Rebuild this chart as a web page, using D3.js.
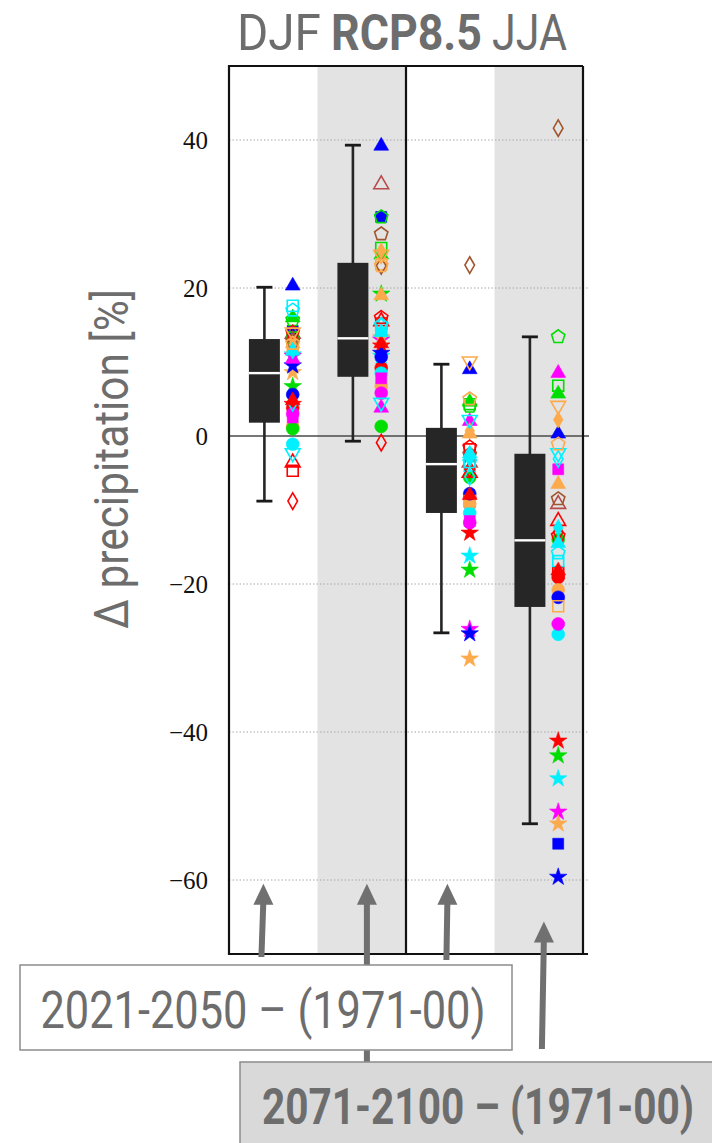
<!DOCTYPE html>
<html>
<head>
<meta charset="utf-8">
<script src="https://cdn.jsdelivr.net/npm/d3@7.9.0/dist/d3.min.js"></script>
<style>
  body { margin: 0; background: #fff; }
  svg { display: block; }
</style>
</head>
<body>
<div id="chart"></div>
<script>
// four boxes: DJF / JJA x near / far future
const periods = ['DJF 2021-2050', 'DJF 2071-2100', 'JJA 2021-2050', 'JJA 2071-2100'];
const shaded = [false, true, false, true];

// box statistics
const whiskerLow = [-8.8, -0.7, -26.6, -52.4];
const q1 = [1.8, 8.0, -10.4, -23.1];
const medians = [8.5, 13.2, -3.8, -14.1];
const q3 = [13.1, 23.4, 1.1, -2.4];
const whiskerHigh = [20.1, 39.3, 9.7, 13.4];

// climate model members (colour, marker, filled)
const modelColors = ['red', 'green', 'cyan', 'magenta', 'orange', 'blue', 'blue', 'red', 'orange', 'cyan',
  'magenta', 'green', 'blue', 'blue', 'magenta', 'green', 'orange', 'brownred', 'red', 'red',
  'green', 'cyan', 'orange', 'magenta', 'brown', 'red', 'orange', 'cyan', 'brown', 'green',
  'red', 'orange', 'cyan', 'cyan', 'red', 'cyan', 'orange', 'cyan'];
const modelShapes = ['star', 'star', 'star', 'star', 'star', 'star', 'square', 'circle', 'circle', 'circle',
  'circle', 'circle', 'circle', 'triUp', 'triUp', 'triUp', 'triUp', 'triUp', 'triUp', 'square',
  'square', 'square', 'square', 'square', 'diamond', 'diamond', 'diamond', 'diamond', 'pentagon', 'pentagon',
  'pentagon', 'triDown', 'triDown', 'diamond', 'triUp', 'triUp', 'pentagon', 'pentagon'];
const modelFilled = [1, 1, 1, 1, 1, 1, 1, 1, 1, 1,
  1, 1, 1, 1, 1, 1, 1, 0, 0, 0,
  0, 0, 0, 1, 0, 0, 1, 0, 0, 0,
  0, 0, 0, 1, 1, 1, 0, 0];

// change in precipitation [%] per model, one array per box
const djfNear = [4.3, 6.7, 11.0, 10.8, 8.6, 9.5, 14.2, 3.8, 1.3, -1.1,
  3.0, 1.0, 5.6, 20.3, 10.4, 16.0, 12.5, 13.8, -3.6, -4.7,
  13.3, 17.6, 12.0, 2.5, 13.0, -8.8, 12.2, 4.5, 12.8, 15.7,
  14.0, 14.0, -2.3, 11.5, 4.8, 11.5, 12.5, 17.0];
const djfFar = [12.2, 19.2, 10.8, 13.0, 13.3, 11.2, 29.6, 9.2, 6.7, 8.5,
  5.8, 1.3, 10.7, 39.2, 3.8, 24.5, 19.0, 34.0, 15.5, 15.2,
  25.4, 14.5, 23.2, 7.8, 23.0, -0.9, 25.0, 14.9, 27.3, 29.6,
  16.0, 24.5, 4.5, 14.0, 12.5, 14.0, 23.0, 15.0];
const jjaNear = [-13.1, -18.1, -16.2, -26.1, -30.1, -26.7, -9.0, -8.3, -9.2, -10.4,
  -11.7, -5.6, -7.8, 9.0, 2.0, 4.6, 0.3, -3.6, -5.0, -1.8,
  4.3, -4.0, -8.8, -11.5, 23.1, -4.5, 0.7, -5.5, -2.5, 4.0,
  -1.5, 10.1, 2.2, -3.1, -8.0, -2.4, 5.0, -3.5];
const jjaFar = [-41.2, -43.2, -46.3, -50.8, -52.4, -59.6, -55.1, -19.1, -20.8, -26.8,
  -25.4, -14.0, -21.8, 0.3, 8.5, 5.7, -6.5, -9.2, -11.5, -18.5,
  6.8, -16.9, -23.0, -4.5, 41.6, -13.0, 2.2, -3.1, -8.5, 13.4,
  -13.5, 4.1, -2.3, -12.4, -18.2, -14.5, -1.1, -15.8];
const modelValues = [djfNear, djfFar, jjaNear, jjaFar];

const yTicks = [40, 20, 0, -20, -40, -60];

const palette = {
  red: '#ff0000', green: '#00dd00', cyan: '#00f0ff', magenta: '#ff00ff', orange: '#fcaa4c',
  blue: '#0000ff', brown: '#a0562d', brownred: '#b84a4a'
};

const width = 712;
const height = 1143;
const plot = { left: 229, right: 583, top: 66, bottom: 954 };
const textGray = '#6d6d6d';

const svg = d3.select('#chart')
  .append('svg')
  .attr('width', width)
  .attr('height', height);

const x = d3.scaleBand()
  .domain(periods)
  .range([plot.left, plot.right])
  .padding(0);

const y = d3.scaleLinear()
  .domain([-70, 50])
  .range([plot.bottom, plot.top]);

const bw = x.bandwidth();
const boxX = p => x(p) + bw * 0.4;
const dotX = p => x(p) + bw * 0.72;
const boxW = bw * 0.35;

// shaded bands for far future
svg.append('g')
  .selectAll('rect')
  .data(periods.filter((p, i) => shaded[i]))
  .join('rect')
  .attr('x', d => x(d))
  .attr('y', plot.top)
  .attr('width', bw)
  .attr('height', plot.bottom - plot.top)
  .attr('fill', '#e3e3e3');

// gridlines
svg.append('g')
  .selectAll('line')
  .data(yTicks.filter(d => d !== 0))
  .join('line')
  .attr('x1', plot.left)
  .attr('x2', plot.right + 6)
  .attr('y1', d => y(d))
  .attr('y2', d => y(d))
  .attr('stroke', '#a8a8a8')
  .attr('stroke-width', 1)
  .attr('stroke-dasharray', '1.5,2');

svg.append('line')
  .attr('x1', plot.left)
  .attr('x2', plot.right + 6)
  .attr('y1', y(0))
  .attr('y2', y(0))
  .attr('stroke', '#4a4a4a')
  .attr('stroke-width', 1.4);

// y tick labels
svg.append('g')
  .selectAll('text')
  .data(yTicks)
  .join('text')
  .attr('x', 208)
  .attr('y', d => y(d))
  .attr('dy', '0.35em')
  .attr('text-anchor', 'end')
  .attr('font-family', '"Liberation Serif", "DejaVu Serif", serif')
  .attr('font-size', 25)
  .attr('fill', '#111')
  .text(d => d < 0 ? '\u2212' + Math.abs(d) : d);

// box plots
const boxes = svg.append('g').selectAll('g')
  .data(periods.map((p, i) => ({ p, i })))
  .join('g');

boxes.append('line')
  .attr('x1', d => boxX(d.p))
  .attr('x2', d => boxX(d.p))
  .attr('y1', d => y(whiskerLow[d.i]))
  .attr('y2', d => y(whiskerHigh[d.i]))
  .attr('stroke', '#262626')
  .attr('stroke-width', 2.6);

boxes.selectAll('.cap')
  .data(d => [whiskerLow[d.i], whiskerHigh[d.i]].map(v => ({ p: d.p, v })))
  .join('line')
  .attr('class', 'cap')
  .attr('x1', d => boxX(d.p) - 8)
  .attr('x2', d => boxX(d.p) + 8)
  .attr('y1', d => y(d.v))
  .attr('y2', d => y(d.v))
  .attr('stroke', '#1a1a1a')
  .attr('stroke-width', 2.8);

boxes.append('rect')
  .attr('x', d => boxX(d.p) - boxW / 2)
  .attr('width', boxW)
  .attr('y', d => y(q3[d.i]))
  .attr('height', d => y(q1[d.i]) - y(q3[d.i]))
  .attr('fill', '#262626');

boxes.append('line')
  .attr('x1', d => boxX(d.p) - boxW / 2)
  .attr('x2', d => boxX(d.p) + boxW / 2)
  .attr('y1', d => y(medians[d.i]))
  .attr('y2', d => y(medians[d.i]))
  .attr('stroke', '#fff')
  .attr('stroke-width', 2.4);

// model markers
function pentagon(r) {
  const pts = d3.range(5).map(k => {
    const a = -Math.PI / 2 + k * 2 * Math.PI / 5;
    return [r * Math.cos(a), r * Math.sin(a)];
  });
  return 'M' + pts.map(p => p.join(',')).join('L') + 'Z';
}
function markerPath(shape) {
  switch (shape) {
    case 'star': return d3.symbol(d3.symbolStar, 95)();
    case 'circle': return d3.symbol(d3.symbolCircle, 130)();
    case 'square': return d3.symbol(d3.symbolSquare, 120)();
    case 'triUp':
    case 'triDown': return d3.symbol(d3.symbolTriangle, 95)();
    case 'diamond': return d3.symbol(d3.symbolDiamond, 80)();
    case 'pentagon': return pentagon(7);
  }
}

const points = [];
periods.forEach((p, i) => {
  modelValues[i].forEach((v, m) => {
    points.push({ p, v, m });
  });
});

svg.append('g')
  .selectAll('path')
  .data(points)
  .join('path')
  .attr('d', d => markerPath(modelShapes[d.m]))
  .attr('transform', d => `translate(${dotX(d.p)},${y(d.v)})` +
    (modelShapes[d.m] === 'triDown' ? ' rotate(180)' : ''))
  .attr('fill', d => modelFilled[d.m] ? palette[modelColors[d.m]] : 'none')
  .attr('stroke', d => palette[modelColors[d.m]])
  .attr('stroke-width', d => modelFilled[d.m] ? 0.6 : 1.6);

// frame
const frame = svg.append('g')
  .attr('stroke', '#111')
  .attr('stroke-width', 2.2)
  .attr('fill', 'none');
frame.append('path')
  .attr('d', `M${plot.right},${plot.top}H${plot.left}V${plot.bottom}H${plot.right + 5}`);
frame.append('line')
  .attr('x1', plot.right).attr('x2', plot.right)
  .attr('y1', plot.top).attr('y2', plot.bottom);
frame.append('line')
  .attr('x1', x(periods[2])).attr('x2', x(periods[2]))
  .attr('y1', plot.top).attr('y2', plot.bottom);

// title, split into three pieces laid out side by side
const titleFont = 'Roboto, "Liberation Sans", sans-serif';
const titleParts = [
  { t: 'DJF', x: 237, w: 84, bold: false },
  { t: 'RCP8.5', x: 331, w: 151, bold: true },
  { t: 'JJA', x: 492, w: 75, bold: false }
];
svg.append('g')
  .selectAll('text')
  .data(titleParts)
  .join('text')
  .attr('x', d => d.x)
  .attr('y', 50)
  .attr('font-family', titleFont)
  .attr('font-size', 50)
  .attr('font-weight', d => d.bold ? 'bold' : 'normal')
  .attr('fill', textGray)
  .attr('textLength', d => d.w)
  .attr('lengthAdjust', 'spacingAndGlyphs')
  .text(d => d.t);

// y axis title
svg.append('text')
  .attr('transform', `translate(128, 459) rotate(-90)`)
  .attr('text-anchor', 'middle')
  .attr('font-family', 'Roboto, "Liberation Sans", sans-serif')
  .attr('font-size', 48)
  .attr('fill', textGray)
  .attr('textLength', 340)
  .attr('lengthAdjust', 'spacingAndGlyphs')
  .text('\u0394 precipitation [%]');

// annotation arrows
const arrowColor = '#707070';
const arrows = [
  { x0: boxX(periods[0]) - 3, y0: 957, x1: boxX(periods[0]) - 1, y1: y(-60.5) },
  { x0: boxX(periods[1]) + 14, y0: 1062, x1: boxX(periods[1]) + 14, y1: y(-60.5) },
  { x0: boxX(periods[2]) + 5, y0: 960, x1: boxX(periods[2]) + 6, y1: y(-60.5) },
  { x0: boxX(periods[3]) + 12, y0: 1049, x1: boxX(periods[3]) + 14, y1: y(-65.6) }
];
const ag = svg.append('g');
ag.selectAll('line')
  .data(arrows)
  .join('line')
  .attr('x1', d => d.x0)
  .attr('y1', d => d.y0)
  .attr('x2', d => d.x1)
  .attr('y2', d => d.y1 + 16)
  .attr('stroke', arrowColor)
  .attr('stroke-width', 6);
ag.selectAll('path')
  .data(arrows)
  .join('path')
  .attr('d', d => `M${d.x1},${d.y1}L${d.x1 + 10},${d.y1 + 21}L${d.x1 - 10},${d.y1 + 21}Z`)
  .attr('fill', arrowColor);

// period label boxes
svg.append('rect')
  .attr('x', 20).attr('y', 965)
  .attr('width', 492).attr('height', 85)
  .attr('fill', '#fff')
  .attr('stroke', '#8c8c8c')
  .attr('stroke-width', 1.5);
svg.append('text')
  .attr('x', 263).attr('y', 1028)
  .attr('text-anchor', 'middle')
  .attr('font-family', 'Roboto, "Liberation Sans", sans-serif')
  .attr('font-size', 52)
  .attr('fill', textGray)
  .attr('textLength', 445)
  .attr('lengthAdjust', 'spacingAndGlyphs')
  .text('2021-2050 \u2013 (1971-00)');

svg.append('rect')
  .attr('x', 240).attr('y', 1062)
  .attr('width', 490).attr('height', 100)
  .attr('fill', '#d9d9d9')
  .attr('stroke', '#8c8c8c')
  .attr('stroke-width', 1.5);
svg.append('text')
  .attr('x', 478).attr('y', 1124)
  .attr('text-anchor', 'middle')
  .attr('font-family', 'Roboto, "Liberation Sans", sans-serif')
  .attr('font-size', 50)
  .attr('font-weight', 'bold')
  .attr('fill', textGray)
  .attr('textLength', 432)
  .attr('lengthAdjust', 'spacingAndGlyphs')
  .text('2071-2100 \u2013 (1971-00)');
</script>
</body>
</html>
